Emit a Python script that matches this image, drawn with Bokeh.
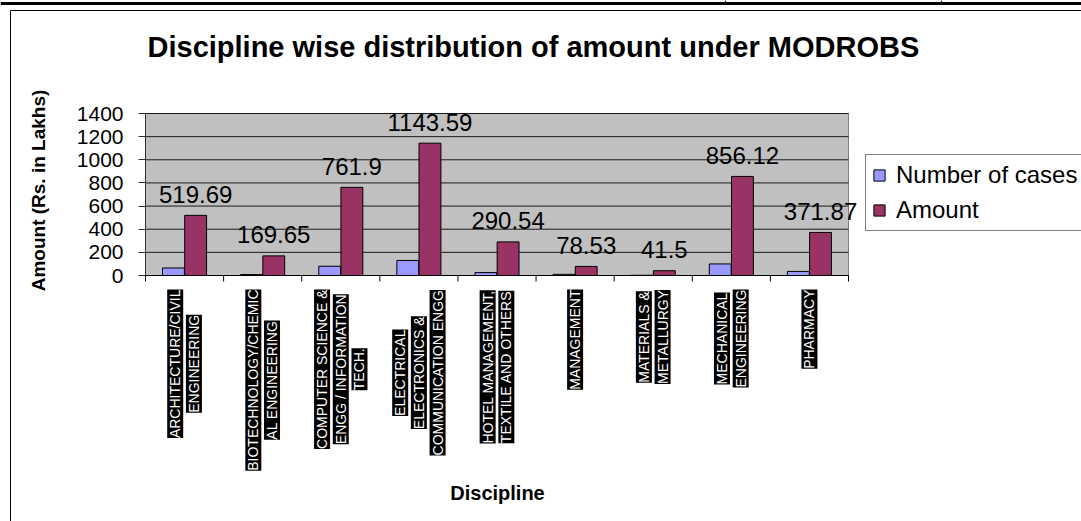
import math
from bokeh.plotting import figure
from bokeh.models import (ColumnDataSource, Range1d, FixedTicker, LabelSet, Label,
                          Legend, LegendItem)
from bokeh.transform import dodge
from bokeh.core.properties import value
from bokeh.embed import file_html
from bokeh.resources import INLINE

# ---------------- data ----------------
categories = [
    "ARCHITECTURE/CIVIL\nENGINEERING",
    "BIOTECHNOLOGY/CHEMIC\nAL ENGINEERING",
    "COMPUTER SCIENCE &\nENGG / INFORMATION\nTECH.",
    "ELECTRICAL\nELECTRONICS &\nCOMMUNICATION ENGG",
    "HOTEL MANAGEMENT,\nTEXTILE AND OTHERS",
    "MANAGEMENT",
    "MATERIALS &\nMETALLURGY",
    "MECHANICAL\nENGINEERING",
    "PHARMACY",
]
number_of_cases = [65, 8, 80, 130, 25, 10, 2, 100, 35]
amount = [519.69, 169.65, 761.9, 1143.59, 290.54, 78.53, 41.5, 856.12, 371.87]
amount_labels = ["519.69", "169.65", "761.9", "1143.59", "290.54", "78.53", "41.5", "856.12", "371.87"]
y_ticks = [0, 200, 400, 600, 800, 1000, 1200, 1400]

TITLE = "Discipline wise distribution of amount under MODROBS"
X_TITLE = "Discipline"
Y_TITLE = "Amount (Rs. in Lakhs)"
SERIES = ["Number of cases", "Amount"]

FONT = "Liberation Sans"
BLUE = "#9999ff"
PLUM = "#993366"

# ---------------- page geometry (pixels) ----------------
WIDTH, HEIGHT = 1081, 521
PX_L, PX_R, PY_T, PY_B = 145, 848, 113, 275      # plot area in page pixels
N = len(categories)
YMAX = y_ticks[-1]
ppx = (PX_R - PX_L) / N
ppy = (PY_B - PY_T) / YMAX


def X(px):
    return 0.5 + (px - PX_L) / ppx


def Y(py):
    return (PY_B - py) / ppy


# Arial / Liberation Sans advance widths (per 1000 em) for label layout
W = {'A': 667, 'B': 667, 'C': 722, 'D': 722, 'E': 667, 'F': 611, 'G': 778, 'H': 722,
     'I': 278, 'J': 500, 'K': 667, 'L': 556, 'M': 833, 'N': 722, 'O': 778, 'P': 667,
     'Q': 778, 'R': 722, 'S': 667, 'T': 611, 'U': 722, 'V': 667, 'W': 944, 'X': 667,
     'Y': 667, 'Z': 611, ' ': 278, '&': 667, '/': 278, '.': 278, ',': 278}
CAT_FS = 14


def text_len(s):
    return sum(W.get(c, 600) for c in s) / 1000.0 * CAT_FS


xs = list(range(1, N + 1))
src = ColumnDataSource(dict(x=xs, cases=number_of_cases, amount=amount, lab=amount_labels))

# category label lines: each line its own black box, block top-aligned, lines centred
lx, ly, ltxt, lxo, lyo = [], [], [], [], []
LINE_STEP = 18.7
for i, cat in enumerate(categories):
    lines = cat.split("\n")
    n = len(lines)
    maxlen = max(text_len(s) for s in lines) + 4
    for j, s in enumerate(lines):
        lx.append(xs[i])
        ly.append(0)
        ltxt.append(s)
        lxo.append((j - (n - 1) / 2.0) * LINE_STEP)
        lyo.append(-(12 + maxlen / 2.0))
cat_src = ColumnDataSource(dict(x=lx, y=ly, text=ltxt, xo=lxo, yo=lyo))

# ---------------- figure (frame covers the whole canvas) ----------------
p = figure(width=WIDTH, height=HEIGHT,
           x_range=Range1d(X(0), X(WIDTH)), y_range=Range1d(Y(HEIGHT), Y(0)),
           output_backend="svg", toolbar_location=None, x_axis_location=None,
           min_border=0, min_border_left=0, min_border_right=0,
           min_border_top=0, min_border_bottom=0)
p.background_fill_color = "white"
p.border_fill_color = "white"
p.outline_line_color = None
p.xgrid.visible = False
p.ygrid.visible = False

# document / chart frame decoration
p.segment(x0=[X(0)], x1=[X(WIDTH)], y0=[Y(3)], y1=[Y(3)], line_color="black", line_width=3)
p.segment(x0=[X(725), X(941)], x1=[X(725), X(941)], y0=[Y(0), Y(0)], y1=[Y(3), Y(3)],
          line_color="black", line_width=1)
p.segment(x0=[X(10), X(10)], x1=[X(WIDTH), X(10)], y0=[Y(10), Y(10)], y1=[Y(10), Y(HEIGHT)],
          line_color="black", line_width=1)

# plot area background
p.quad(left=[0.5], right=[N + 0.5], bottom=[0], top=[YMAX],
       fill_color="#c0c0c0", line_color="#808080", line_width=1)
# gridlines
p.segment(x0=[0.5] * len(y_ticks), x1=[N + 0.5] * len(y_ticks), y0=y_ticks, y1=y_ticks,
          line_color="#1a1a1a", line_width=1)

r1 = p.vbar(x=dodge('x', -0.142), top='cases', width=0.28, source=src,
            fill_color=BLUE, line_color="black", line_width=1)
r2 = p.vbar(x=dodge('x', 0.142), top='amount', width=0.28, source=src,
            fill_color=PLUM, line_color="black", line_width=1)

# x axis line and category separator ticks
bounds = [i + 0.5 for i in range(N + 1)]
p.segment(x0=[0.5], x1=[N + 0.5], y0=[0], y1=[0], line_color="black", line_width=1)
p.segment(x0=bounds, x1=bounds, y0=[0] * len(bounds), y1=[Y(PY_B + 6)] * len(bounds),
          line_color="black", line_width=1)

# y axis at the plot area's left edge
p.yaxis.fixed_location = 0.5
p.yaxis.bounds = (0, YMAX)
p.yaxis.ticker = FixedTicker(ticks=y_ticks)
p.yaxis.major_tick_out = 7
p.yaxis.major_tick_in = 0
p.yaxis.minor_tick_out = 0
p.yaxis.minor_tick_in = 0
p.yaxis.major_label_text_font = FONT
p.yaxis.major_label_text_font_size = "21px"
p.yaxis.major_label_text_color = "black"
p.yaxis.major_label_standoff = 15
p.yaxis.axis_line_color = "#303030"
p.yaxis.major_tick_line_color = "#303030"

# value labels
p.add_layout(LabelSet(x=dodge('x', 0.142), y='amount', text='lab', source=src,
                      y_offset=21, text_align="center", text_baseline="middle",
                      text_font=value(FONT), text_font_size=value("24px"),
                      text_color="black"))

# category labels
cat_kw = dict(x='x', y='y', text='text', source=cat_src, x_offset='xo', y_offset='yo',
              angle=math.pi / 2, text_align="center", text_baseline="middle",
              text_font=value(FONT), text_font_size=value(f"{CAT_FS}px"),
              text_color="white", background_fill_color="black")
if "padding" in LabelSet.properties():
    cat_kw["padding"] = 1
p.add_layout(LabelSet(**cat_kw))

# titles
p.add_layout(Label(x=X(147), y=Y(46), text=TITLE, text_color="black",
                   text_font=FONT, text_font_size="29px", text_font_style="bold",
                   text_align="left", text_baseline="middle"))
p.add_layout(Label(x=X(38), y=Y(190), text=Y_TITLE, angle=math.pi / 2, text_color="black",
                   text_font=FONT, text_font_size="19px", text_font_style="bold",
                   text_align="center", text_baseline="middle"))
p.add_layout(Label(x=X(497), y=Y(492), text=X_TITLE, text_color="black",
                   text_font=FONT, text_font_size="20px", text_font_style="bold",
                   text_align="center", text_baseline="middle"))

legend = Legend(items=[LegendItem(label=SERIES[0], renderers=[r1]),
                       LegendItem(label=SERIES[1], renderers=[r2])],
                location=(865, HEIGHT - 231), orientation="vertical",
                label_text_font=FONT, label_text_font_size="24px",
                label_text_color="black",
                glyph_width=14, glyph_height=14, label_height=25, spacing=7, padding=6,
                border_line_color="black", border_line_width=1,
                background_fill_color="white", background_fill_alpha=1.0,
                label_standoff=10, margin=0)
p.add_layout(legend, "center")

open("out.html", "w").write(file_html(p, INLINE))
